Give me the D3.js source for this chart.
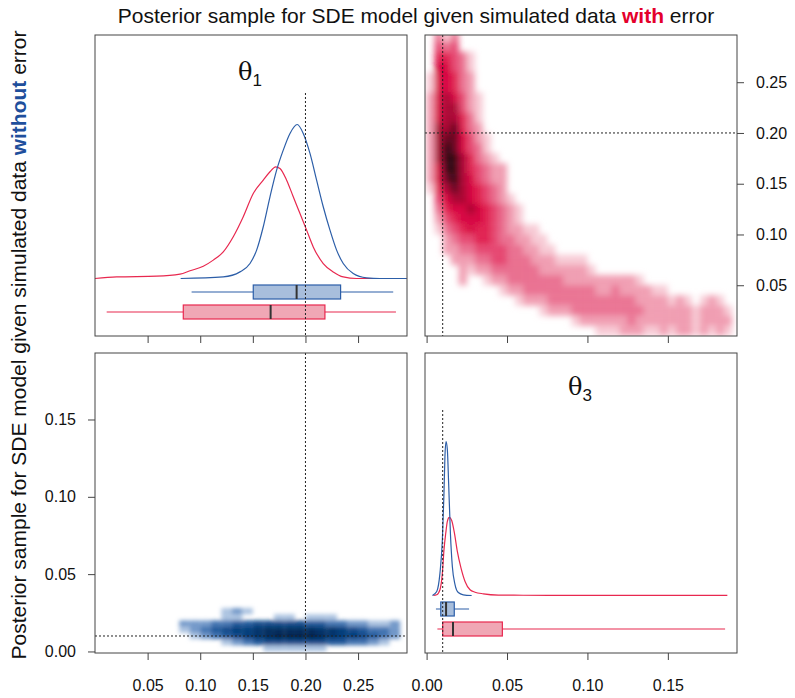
<!DOCTYPE html>
<html>
<head>
<meta charset="utf-8">
<script src="https://cdn.jsdelivr.net/npm/d3@7/dist/d3.min.js"></script>
<style>
  body { margin: 0; background: #fff; }
  text { font-family: "Liberation Sans", Arial, Helvetica, sans-serif; }
</style>
</head>
<body>
<div id="chart"></div>
<script>
// Marginal densities of theta1, [value, density]
const theta1Blue = [[0.0814,0],[0.1219,0.12],[0.1378,0.49],[0.1473,1.11],[0.1536,2.10],[0.1599,3.83],[0.1663,6.05],
  [0.1726,8.02],[0.1789,9.50],[0.1853,10.74],[0.1922,11.40],[0.1979,10.74],[0.2043,9.26],[0.2106,7.28],[0.2169,5.31],
  [0.2233,3.58],[0.2296,2.10],[0.2359,1.11],[0.2454,0.37],[0.2581,0.05],[0.2708,0],[0.2962,0]]
const theta1Red = [[0,0],[0.0206,0.12],[0.0586,0.17],[0.0808,0.32],[0.0903,0.57],[0.1029,0.91],[0.1124,1.36],[0.1219,1.97],
  [0.1314,3.09],[0.1409,4.57],[0.1504,6.29],[0.1599,7.28],[0.1663,7.90],[0.1717,8.27],[0.1758,8.14],[0.1821,7.28],
  [0.1884,6.05],[0.1948,4.81],[0.2011,3.58],[0.2074,2.34],[0.2169,1.11],[0.2264,0.49],[0.2359,0.12],[0.2486,0],[0.2962,0]]

// Marginal densities of theta3
const theta3Blue = [[0.0036,0],[0.0063,3.5],[0.0083,19.6],[0.0098,48.8],[0.0108,89.7],[0.0114,121.8],[0.0121,135],
  [0.0129,127.7],[0.0137,98.5],[0.0148,54.6],[0.0160,25.4],[0.0177,9.4],[0.0197,2.6],[0.0228,0.6],[0.0280,0]]
const theta3Red = [[0.0042,0],[0.0063,0.6],[0.0083,5.0],[0.0098,19.6],[0.0108,40],[0.0119,54.6],[0.0129,64.9],[0.0141,68.4],
  [0.0156,65.7],[0.0173,54.6],[0.0191,38.6],[0.0214,24],[0.0239,12.3],[0.0270,5],[0.0301,2.9],[0.0353,1.5],[0.0446,0.4],
  [0.0600,0.2],[0.0900,0.1],[0.1300,0.1],[0.1870,0.05]]

// Boxplot stats: [lower whisker, q1, median, q3, upper whisker]
const box1Blue = [0.0918, 0.1504, 0.1916, 0.2334, 0.2834]
const box1Red = [0.0111, 0.0839, 0.1669, 0.2185, 0.2860]
const box3Blue = [0.0058, 0.0088, 0.0121, 0.0172, 0.0264]
const box3Red = [0.0067, 0.0100, 0.0164, 0.0471, 0.1856]

// True values (dotted lines)
const trueTheta1 = 0.2
const trueTheta3 = 0.01

// Smoothed scatter, data with error: columns = theta3 bins (0.005 wide from 0),
// rows = theta1 bins (0.01 high from 0.30 down), digit = density level
const redGrid = [
  "0313",
  "0434",
  "055431",
  "066431",
  "166532",
  "166532",
  "2676421",
  "2677421",
  "2677531",
  "2778532",
  "27886421",
  "27986431",
  "279975321",
  "2699754322",
  "2689764322",
  "1578765432",
  "04677654321",
  "035667654321",
  "024566654321",
  "01345655432211",
  "002344554332211",
  "0022334444332211",
  "00022233443332221111",
  "000021223333332222221",
  "000020012233333332222222221",
  "000000000122333333333223222211",
  "0000000000012223333333333322221210121",
  "00000000000000122233333333322222212221",
  "00000000000000000012222223222222212222",
  "00000000000000000000011122211212212121"
]
// Smoothed scatter, data without error: columns = theta1 bins (0.01 wide from 0.08),
// rows = theta3 bins (0.004 high from 0.028 down)
const blueGrid = [
  "0000121",
  "000011000110111",
  "222334455555443322112",
  "123456678888877654332",
  "012345678999987665432",
  "00001234555555443321",
  "00000000111111"
]

const theta1Ticks = [0.05, 0.10, 0.15, 0.20, 0.25]
const theta3Ticks = [0.00, 0.05, 0.10, 0.15]

const redLevels = ["#f7c9d4", "#f09bb0", "#e96e8f", "#e54470", "#e01a4d", "#d6003c", "#a8002e", "#66001c", "#2e000c"]
const blueLevels = ["#aac2e0", "#6f96c8", "#3f72b0", "#1c5699", "#0c4688", "#053b79", "#03336b", "#022b5d", "#01234d"]

const blueCol = "#2c5ea8"
const redCol = "#e8284f"

const width = 795
const height = 698

const svg = d3.select("#chart").append("svg")
  .attr("width", width)
  .attr("height", height)

// panel boxes
const panels = {
  tl: { x0: 95, x1: 407, y0: 35, y1: 336 },
  tr: { x0: 425, x1: 737, y0: 35, y1: 336 },
  bl: { x0: 95, x1: 407, y0: 353, y1: 653 },
  br: { x0: 425, x1: 737, y0: 353, y1: 653 }
}

const xT1 = d3.scaleLinear().domain([0, 0.2965]).range([95, 407])
const xT3 = d3.scaleLinear().domain([-0.001, 0.193]).range([425, 737])
const yT1 = d3.scaleLinear().domain([0, 0.2965]).range([336, 35])
const yT3 = d3.scaleLinear().domain([-0.001, 0.193]).range([653, 353])

const defs = svg.append("defs")
Object.entries(panels).forEach(([k, p]) => {
  defs.append("clipPath").attr("id", "clip-" + k)
    .append("rect").attr("x", p.x0).attr("y", p.y0).attr("width", p.x1 - p.x0).attr("height", p.y1 - p.y0)
})
defs.append("filter").attr("id", "blurRed").attr("x", "-5%").attr("y", "-5%").attr("width", "110%").attr("height", "110%")
  .append("feGaussianBlur").attr("stdDeviation", 3)
defs.append("filter").attr("id", "blurBlue").attr("x", "-5%").attr("y", "-20%").attr("width", "110%").attr("height", "140%")
  .append("feGaussianBlur").attr("stdDeviation", 2)

// draw a grid of density cells
function drawCells(g, rows, colStart, colStep, rowTop, rowStep, xs, ys, levels) {
  const cells = []
  rows.forEach((row, r) => {
    row.split("").forEach((ch, c) => {
      const v = +ch
      if (v > 0) cells.push({ c: c, r: r, v: v })
    })
  })
  g.selectAll("rect")
    .data(cells)
    .enter().append("rect")
    .attr("x", d => xs(colStart + d.c * colStep))
    .attr("y", d => ys(rowTop - d.r * rowStep))
    .attr("width", d => xs(colStart + (d.c + 1) * colStep) - xs(colStart + d.c * colStep))
    .attr("height", d => ys(rowTop - (d.r + 1) * rowStep) - ys(rowTop - d.r * rowStep))
    .attr("fill", d => levels[d.v - 1])
}

// top right: theta3 (x) vs theta1 (y), with error
const trG = svg.append("g").attr("clip-path", "url(#clip-tr)")
drawCells(trG.append("g").attr("filter", "url(#blurRed)"), redGrid, 0, 0.005, 0.30, 0.01, xT3, yT1, redLevels)

// bottom left: theta1 (x) vs theta3 (y), without error
const blG = svg.append("g").attr("clip-path", "url(#clip-bl)")
drawCells(blG.append("g").attr("filter", "url(#blurBlue)"), blueGrid, 0.08, 0.01, 0.028, 0.004, xT1, yT3, blueLevels)

// dotted true value lines in scatter panels
function dotted(x1, y1, x2, y2) {
  svg.append("line")
    .attr("x1", x1).attr("y1", y1).attr("x2", x2).attr("y2", y2)
    .attr("stroke", "#222")
    .attr("stroke-width", 1)
    .attr("stroke-dasharray", "2,2")
}
dotted(xT3(trueTheta3), panels.tr.y0, xT3(trueTheta3), panels.tr.y1)
dotted(panels.tr.x0, yT1(trueTheta1), panels.tr.x1, yT1(trueTheta1))
dotted(xT1(trueTheta1), panels.bl.y0, xT1(trueTheta1), panels.bl.y1)
dotted(panels.bl.x0, yT3(trueTheta3), panels.bl.x1, yT3(trueTheta3))

// diagonal panels: densities + boxplots
function diagPanel(p, xs, dBlue, dRed, bBlue, bRed, trueVal, key) {
  const base = p.y1 - 57.5
  const dmax = d3.max(dBlue, d => d[1])
  const ys = d3.scaleLinear().domain([0, dmax]).range([base, base - 154])
  const g = svg.append("g").attr("clip-path", "url(#clip-" + key + ")")

  dotted(xs(trueVal), p.y1 - 243, xs(trueVal), p.y1)

  const line = d3.line()
    .x(d => xs(d[0]))
    .y(d => ys(d[1]))
    .curve(d3.curveMonotoneX)

  g.append("path").datum(dRed)
    .attr("d", line).attr("fill", "none").attr("stroke", redCol).attr("stroke-width", 1.2)
  g.append("path").datum(dBlue)
    .attr("d", line).attr("fill", "none").attr("stroke", blueCol).attr("stroke-width", 1.2)

  const boxes = [
    { s: bBlue, cy: p.y1 - 44, stroke: blueCol, fill: "#a8bedc" },
    { s: bRed, cy: p.y1 - 24, stroke: redCol, fill: "#f0a7b5" }
  ]
  boxes.forEach(b => {
    const bg = g.append("g")
    bg.append("line")
      .attr("x1", xs(b.s[0])).attr("x2", xs(b.s[4]))
      .attr("y1", b.cy).attr("y2", b.cy)
      .attr("stroke", b.stroke).attr("stroke-width", 1.2)
    bg.append("rect")
      .attr("x", xs(b.s[1])).attr("width", xs(b.s[3]) - xs(b.s[1]))
      .attr("y", b.cy - 7).attr("height", 14)
      .attr("fill", b.fill).attr("stroke", b.stroke).attr("stroke-width", 1.2)
    bg.append("line")
      .attr("x1", xs(b.s[2])).attr("x2", xs(b.s[2]))
      .attr("y1", b.cy - 7).attr("y2", b.cy + 7)
      .attr("stroke", "#333").attr("stroke-width", 2)
  })
}
diagPanel(panels.tl, xT1, theta1Blue, theta1Red, box1Blue, box1Red, trueTheta1, "tl")
diagPanel(panels.br, xT3, theta3Blue, theta3Red, box3Blue, box3Red, trueTheta3, "br")

// panel frames
Object.values(panels).forEach(p => {
  svg.append("rect")
    .attr("x", p.x0).attr("y", p.y0)
    .attr("width", p.x1 - p.x0).attr("height", p.y1 - p.y0)
    .attr("fill", "none").attr("stroke", "#444").attr("stroke-width", 1)
})

// axes
const fmt = d3.format(".2f")
function styleAxis(g) {
  g.select(".domain").remove()
  g.selectAll(".tick line").attr("stroke", "#444")
  g.selectAll(".tick text").attr("fill", "#111")
  g.attr("font-size", 16).attr("font-family", "Liberation Sans, Arial, sans-serif")
}
svg.append("g").attr("transform", "translate(0," + panels.tl.y1 + ")")
  .call(d3.axisBottom(xT1).tickValues(theta1Ticks).tickSize(7).tickFormat(""))
  .call(styleAxis)
svg.append("g").attr("transform", "translate(0," + panels.tr.y1 + ")")
  .call(d3.axisBottom(xT3).tickValues(theta3Ticks).tickSize(7).tickFormat(""))
  .call(styleAxis)
svg.append("g").attr("transform", "translate(0," + panels.bl.y1 + ")")
  .call(d3.axisBottom(xT1).tickValues(theta1Ticks).tickSize(7).tickPadding(20).tickFormat(fmt))
  .call(styleAxis)
svg.append("g").attr("transform", "translate(0," + panels.br.y1 + ")")
  .call(d3.axisBottom(xT3).tickValues(theta3Ticks).tickSize(7).tickPadding(20).tickFormat(fmt))
  .call(styleAxis)
svg.append("g").attr("transform", "translate(" + panels.bl.x0 + ",0)")
  .call(d3.axisLeft(yT3).tickValues(theta3Ticks).tickSize(7).tickPadding(12).tickFormat(fmt))
  .call(styleAxis)
svg.append("g").attr("transform", "translate(" + panels.tr.x1 + ",0)")
  .call(d3.axisRight(yT1).tickValues(theta1Ticks).tickSize(7).tickPadding(12).tickFormat(fmt))
  .call(styleAxis)

// parameter labels
function thetaLabel(x, y, sub) {
  const t = svg.append("text")
    .attr("x", x).attr("y", y)
    .attr("text-anchor", "middle")
    .style("font-family", "'DejaVu Serif', 'Liberation Serif', serif")
    .style("font-size", "24px")
    .attr("fill", "#111")
  t.append("tspan").text("θ")
  t.append("tspan").attr("dy", 6).style("font-size", "17px").style("font-family", "'Liberation Sans', Arial, sans-serif").text(sub)
}
thetaLabel(250, 80, "1")
thetaLabel(580, 395, "3")

// titles
const title = svg.append("text")
  .attr("x", 416).attr("y", 23)
  .attr("text-anchor", "middle")
  .style("font-size", "21px")
  .attr("fill", "#111")
title.append("tspan").text("Posterior sample for SDE model given simulated data ")
title.append("tspan").attr("fill", "#e4002b").attr("font-weight", "bold").text("with")
title.append("tspan").text(" error")

const side = svg.append("text")
  .attr("transform", "translate(26,345) rotate(-90)")
  .attr("text-anchor", "middle")
  .style("font-size", "21px")
  .attr("fill", "#111")
side.append("tspan").text("Posterior sample for SDE model given simulated data ")
side.append("tspan").attr("fill", "#1f4f9c").attr("font-weight", "bold").text("without")
side.append("tspan").text(" error")
</script>
</body>
</html>
